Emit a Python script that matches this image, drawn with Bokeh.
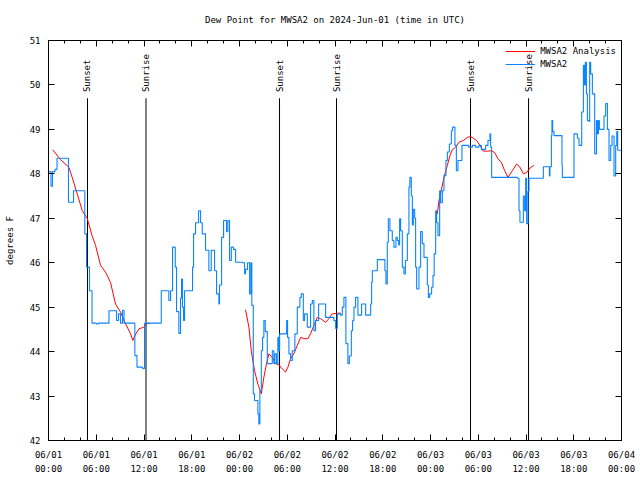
import numpy as np
from bokeh.plotting import figure
from bokeh.models import (FixedTicker, LinearAxis, Legend, LegendItem, Range1d,
                          CustomLabelingPolicy)
from bokeh.embed import file_html
from bokeh.resources import INLINE
from bokeh.core.properties import value

# ---- data (hours since 2024-06-01 00:00 UTC, dew point in degrees F) ----
obs_hours = [0.00, 0.31, 0.50, 0.82, 1.07, 2.51, 3.14, 4.56, 4.78, 5.15, 5.47, 6.03, 6.28,
             7.60, 8.55, 8.80, 9.05, 9.30, 9.49, 10.85, 11.12, 11.82, 12.07, 14.17, 15.12,
             15.34, 15.59, 15.93, 16.09, 16.38, 16.59, 16.72, 16.84, 16.97, 17.10, 18.10,
             18.23, 18.48, 18.86, 19.11, 19.32, 19.73, 20.15, 20.45, 20.87, 21.12, 21.41,
             21.49, 21.75, 22.00, 22.37, 22.54, 22.75, 22.97, 23.25, 23.51, 24.35, 24.64,
             24.76, 25.01, 25.27, 25.43, 25.55, 25.73, 25.89, 26.31, 26.43, 26.56, 26.74,
             26.90, 27.06, 27.24, 27.49, 27.91, 28.12, 28.32, 28.45, 28.66, 28.82, 28.95,
             29.04, 29.79, 29.92, 30.04, 30.21, 30.42, 30.63, 30.96, 31.26, 31.59, 31.76,
             32.02, 32.18, 32.52, 32.93, 33.15, 33.35, 33.56, 33.94, 34.57, 34.82, 35.66,
             35.86, 36.08, 36.29, 36.70, 36.92, 37.12, 37.37, 37.62, 37.80, 38.05, 38.21,
             38.38, 38.59, 38.88, 39.34, 39.63, 39.85, 40.39, 40.48, 40.60, 40.69, 41.19,
             41.32, 42.15, 42.27, 42.40, 42.57, 42.70, 42.90, 43.20, 43.40, 43.66, 43.83,
             44.00, 44.12, 44.25, 44.46, 44.66, 44.84, 45.09, 45.29, 45.41, 45.59, 45.72,
             45.84, 46.01, 46.13, 46.26, 46.42, 46.55, 46.76, 46.97, 47.18, 47.48, 47.60,
             47.73, 47.89, 48.14, 48.31, 48.46, 48.65, 48.77, 48.94, 49.15, 49.27, 49.49,
             49.69, 49.94, 50.12, 50.37, 50.62, 50.78, 51.07, 51.25, 51.45, 51.95, 52.79,
             53.26, 53.67, 54.09, 54.39, 54.93, 55.22, 55.47, 55.56, 55.68, 58.91, 59.12,
             59.24, 59.54, 59.67, 59.83, 59.96, 60.08, 60.25, 60.37, 62.06, 62.18, 62.81,
             62.94, 63.01, 63.19, 63.26, 63.35, 63.52, 64.36, 64.52, 64.57, 65.83, 66.03,
             66.46, 66.66, 66.87, 67.00, 67.21, 67.34, 67.46, 67.59, 67.71, 67.91, 68.00,
             68.13, 68.34, 68.63, 68.85, 68.97, 69.10, 69.22, 69.60, 69.80, 70.01, 70.23,
             70.43, 70.64, 70.81, 71.06, 71.27, 71.40, 71.52, 72.00]
obs_dewpt = [48.05, 47.72, 48.05, 48.10, 48.35, 47.36, 47.62, 46.65, 45.90, 45.37, 44.64, 44.62, 44.64,
             44.92, 44.70, 44.85, 44.64, 44.93, 44.64, 43.91, 43.65, 43.62, 44.64, 45.37, 45.15,
             45.37, 46.35, 45.90, 44.90, 44.41, 45.20, 45.63, 45.00, 44.70, 45.37, 45.90,
             46.65, 46.90, 47.17, 46.90, 46.65, 46.28, 45.82, 46.28, 45.82, 45.30, 45.07,
             45.50, 46.57, 46.95, 46.70, 46.95, 46.05, 46.35, 46.30, 46.01, 46.00, 45.75,
             45.85, 46.00, 45.30, 46.00, 45.04, 43.05, 42.90, 42.60, 42.37, 43.12, 44.02,
             44.32, 44.70, 44.45, 43.73, 43.73, 44.02, 43.73, 43.95, 43.73, 44.32, 44.02,
             44.40, 44.40, 44.70, 44.32, 43.95, 43.80, 44.02, 44.40, 45.00, 45.22, 45.30,
             44.70, 44.85, 44.55, 45.07, 45.15, 44.47, 44.70, 45.07, 45.07, 44.77, 44.77,
             44.70, 44.52, 44.85, 44.82, 45.00, 45.22, 44.18, 43.73, 43.90, 44.47, 44.70,
             45.00, 45.22, 44.82, 45.07, 45.07, 44.82, 44.82, 45.07, 45.56, 45.82, 45.82,
             46.07, 46.07, 45.82, 45.52, 46.46, 46.99, 46.72, 46.50, 46.35, 46.57, 46.50,
             46.40, 46.99, 46.72, 45.90, 45.75, 46.05, 46.65, 47.70, 47.92, 47.50, 46.85,
             47.20, 47.00, 45.90, 45.41, 45.41, 45.90, 46.70, 46.43, 46.12, 46.12, 45.50,
             45.22, 45.30, 45.45, 45.71, 46.20, 47.17, 46.90, 46.61, 47.62, 47.35, 47.62,
             47.96, 48.30, 48.49, 48.67, 48.97, 49.05, 48.64, 48.07, 48.30, 48.64, 48.60,
             48.64, 48.60, 48.64, 48.55, 48.64, 48.75, 48.90, 48.60, 47.92, 47.90, 47.17,
             46.91, 46.91, 47.50, 47.17, 47.90, 46.88, 47.60, 47.90, 47.90, 48.16, 48.16,
             47.95, 48.16, 48.86, 49.20, 48.95, 48.86, 48.86, 48.19, 47.92, 47.92, 48.90,
             48.80, 48.64, 48.64, 49.39, 50.44, 50.00, 50.51, 49.80, 49.20, 49.18, 50.51,
             50.25, 49.80, 48.45, 49.20, 48.90, 49.20, 49.00, 49.00, 49.30, 49.58, 49.00,
             48.30, 48.64, 48.85, 47.95, 48.64, 48.95, 48.53, 48.53]

nan = float("nan")
ana_hours = [0.54, 1.51, 2.55, 2.98, 3.61, 4.24, 4.86, 5.49, 5.91, 6.54, 7.16, 7.79, 8.42,
             9.05, 9.68, 10.31, 10.60, 10.85, 11.35, 11.98, 12.41, 12.70, nan,
             24.76, 25.18, 25.48, 25.89, 26.31, 26.74, 27.06, 27.40, 27.69, 28.12, 28.53,
             28.95, 29.38, 29.79, 30.08, 30.42, 30.83, 31.26, 31.68, 32.09, 32.59, 32.93,
             33.35, 33.77, 34.19, 34.82, 35.23, 35.66, 36.29, 36.70, nan,
             48.86, 49.06, 49.35, 49.69, 50.12, 50.44, 50.74, 51.16, 51.57, 52.12, 52.63,
             53.04, 53.38, 53.80, 54.21, 54.64, 55.14, 55.64, 56.06, 56.47, 56.90, 57.32,
             57.73, 58.28, 58.83, 59.24, 59.67, 60.08, 60.50, 60.97]
ana_dewpt = [48.54, 48.32, 48.15, 47.92, 47.55, 47.17, 47.00, 46.60, 46.39, 45.94, 45.79, 45.56, 45.07,
             44.89, 44.63, 44.40, 44.25, 44.36, 44.51, 44.55, 44.63, 44.64, nan,
             44.94, 44.55, 44.02, 43.57, 43.27, 43.05, 43.42, 43.73, 43.95, 43.87, 43.73,
             43.70, 43.61, 43.54, 43.65, 43.84, 43.95, 44.14, 44.32, 44.29, 44.29, 44.40,
             44.59, 44.77, 44.74, 44.66, 44.74, 44.85, 44.86, 44.87, nan,
             47.10, 47.40, 47.62, 47.92, 48.19, 48.41, 48.54, 48.60, 48.71, 48.75, 48.82,
             48.84, 48.80, 48.75, 48.64, 48.51, 48.51, 48.52, 48.48, 48.34, 48.26, 48.07,
             47.92, 48.07, 48.22, 48.15, 48.00, 48.03, 48.13, 48.19]

sun_hours = [4.90, 12.25, 29.03, 36.19, 53.03, 60.32]
sun_labels = ["Sunset", "Sunrise", "Sunset", "Sunrise", "Sunset", "Sunrise"]

tick_hours = [0, 6, 12, 18, 24, 30, 36, 42, 48, 54, 60, 66, 72]
tick_labels = ["06/01\n00:00", "06/01\n06:00", "06/01\n12:00", "06/01\n18:00",
               "06/02\n00:00", "06/02\n06:00", "06/02\n12:00", "06/02\n18:00",
               "06/03\n00:00", "06/03\n06:00", "06/03\n12:00", "06/03\n18:00",
               "06/04\n00:00"]
y_ticks = [42, 43, 44, 45, 46, 47, 48, 49, 50, 51]

FONT = "DejaVu Sans Mono"
FS = "9px"

p = figure(width=636, height=477, x_range=Range1d(0, 72), y_range=Range1d(42, 51),
           output_backend="svg", toolbar_location=None,
           title="Dew Point for MWSA2 on 2024-Jun-01 (time in UTC)",
           min_border_left=48, min_border_right=11, min_border_top=40, min_border_bottom=32)
p.title.align = "center"
p.title.text_font = FONT
p.title.text_font_size = FS
p.title.text_font_style = "normal"
p.title.text_color = "black"
p.title.offset = 0
p.title.standoff = 10
p.xgrid.visible = False
p.ygrid.visible = False
p.outline_line_color = "black"
p.outline_line_alpha = 1
p.background_fill_color = "white"

xt = FixedTicker(ticks=tick_hours, minor_ticks=list(range(0, 73, 2)))
yt = FixedTicker(ticks=y_ticks, minor_ticks=[])

xa = p.xaxis[0]
xa.ticker = xt
xa.major_label_overrides = {h: lab for h, lab in zip(tick_hours, tick_labels)}
ya = p.yaxis[0]
ya.ticker = yt
ya.axis_label = "degrees F"

for ax in (xa, ya):
    ax.major_tick_in = 6
    ax.major_tick_out = 0
    ax.minor_tick_in = 3
    ax.minor_tick_out = 0
    ax.major_label_text_font = FONT
    ax.major_label_text_font_size = FS
    ax.axis_label_text_font = FONT
    ax.axis_label_text_font_size = FS
    ax.axis_label_text_font_style = "normal"
    ax.axis_label_text_color = "black"
    ax.axis_line_color = "black"
    ax.major_tick_line_color = "black"
    ax.minor_tick_line_color = "black"
    ax.major_label_text_color = "black"
xa.major_label_standoff = 9
xa.major_label_text_line_height = 1.45
ya.major_label_standoff = 8
ya.axis_label_standoff = 12

no_labels = CustomLabelingPolicy(code="return new Set()")
top_ax = LinearAxis(ticker=xt, major_label_policy=no_labels, major_tick_in=6, major_tick_out=0,
                    minor_tick_in=3, minor_tick_out=0, major_label_standoff=0,
                    axis_line_color="black", major_tick_line_color="black", minor_tick_line_color="black")
right_ax = LinearAxis(ticker=yt, major_label_policy=no_labels, major_tick_in=6, major_tick_out=0,
                      minor_tick_in=0, minor_tick_out=0, major_label_standoff=0,
                      axis_line_color="black", major_tick_line_color="black")
p.add_layout(top_ax, "above")
p.add_layout(right_ax, "right")

# sunrise/sunset markers
p.segment(x0=sun_hours, y0=[42] * 6, x1=sun_hours, y1=[49.7] * 6, line_color="black", line_width=1)
p.text(x=sun_hours, y=[49.84] * 6, text=sun_labels, angle=np.pi / 2, text_align="left",
       text_baseline="middle", text_font=value(FONT), text_font_size=FS, text_color="black")

r_ana = p.line(ana_hours, ana_dewpt, line_color="#ff0000", line_width=1)
r_obs = p.step(obs_hours, obs_dewpt, mode="after", line_color="#0a84ff", line_width=1.1)

legend = Legend(items=[LegendItem(label="MWSA2 Analysis", renderers=[r_ana]),
                       LegendItem(label="MWSA2", renderers=[r_obs])],
                location="top_right", background_fill_alpha=0, border_line_alpha=0,
                label_text_font=FONT, label_text_font_size=FS, label_text_color="black",
                glyph_width=30, glyph_height=12,
                label_height=12, spacing=1, padding=2, margin=3)
p.add_layout(legend)

open("out.html", "w").write(file_html(p, INLINE))
